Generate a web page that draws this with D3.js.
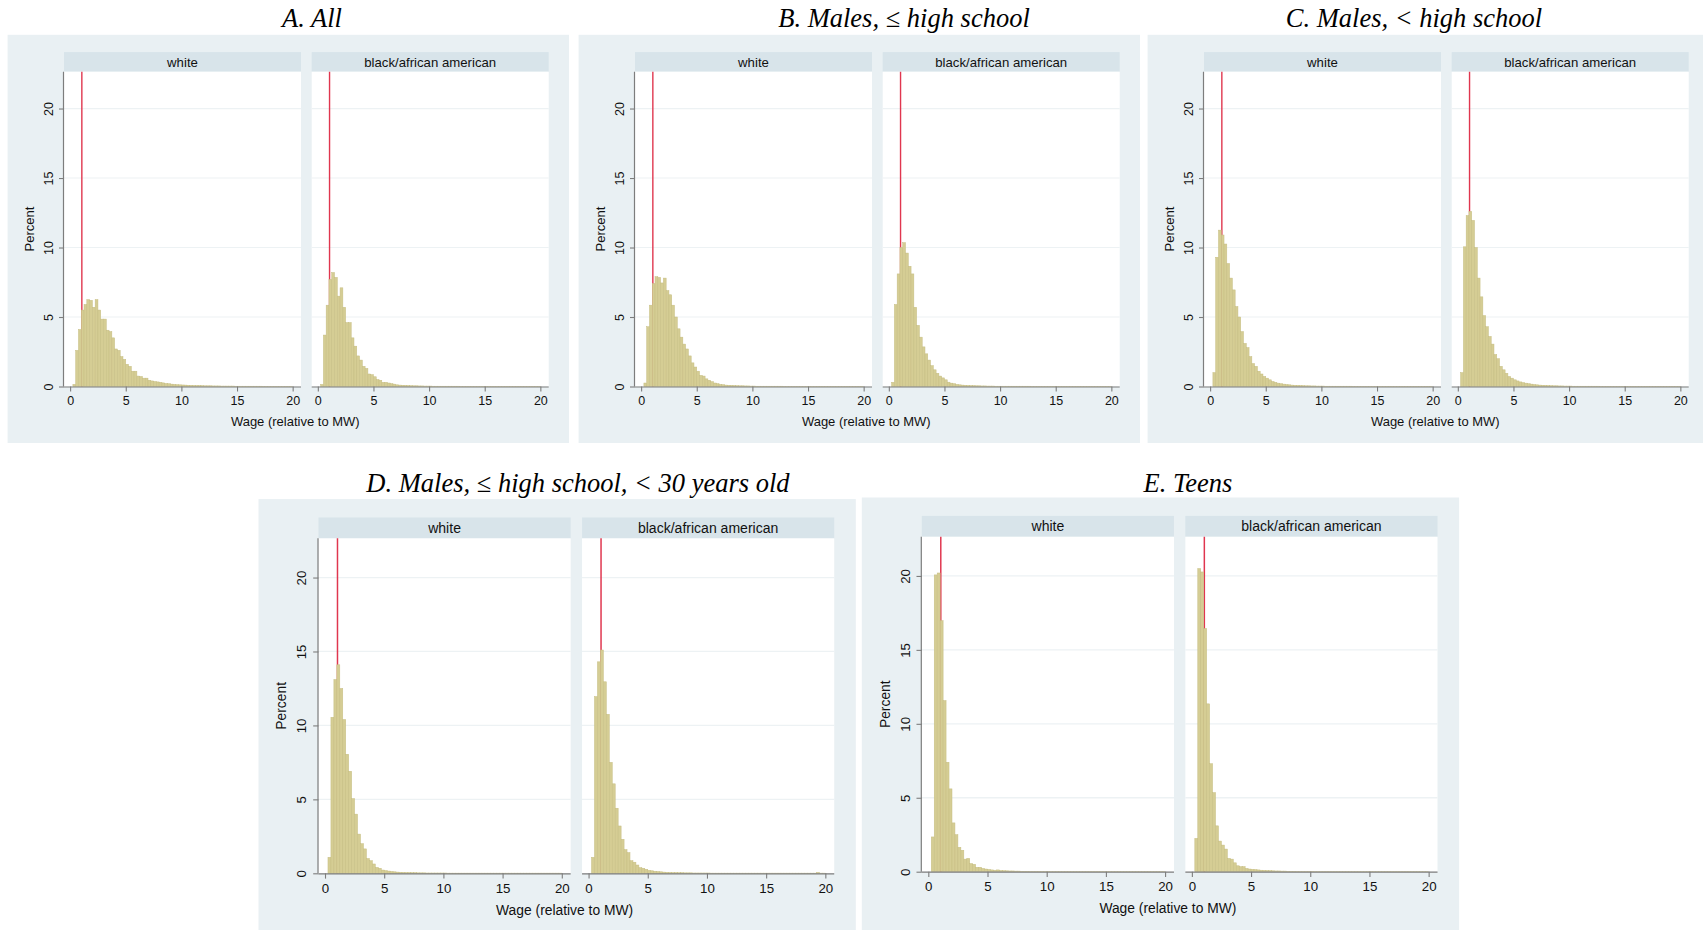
<!DOCTYPE html>
<html>
<head>
<meta charset="utf-8">
<script src="https://cdn.jsdelivr.net/npm/d3@7"></script>
<style>
  html, body { margin: 0; padding: 0; background: #ffffff; }
  svg { display: block; }
</style>
</head>
<body>
<svg id="chart" width="1703" height="930"></svg>
<script>
// Facet labels, axis ticks and histogram binning
const groups = ["white", "black/african american"];
const xTicks = [0, 5, 10, 15, 20];
const yTicks = [0, 5, 10, 15, 20];
const binStart = 0.25;
const binWidth = 0.25;
const minimumWage = 1;
const xTitle = "Wage (relative to MW)";
const yTitle = "Percent";

const panelTitles = [
  "A. All",
  "B. Males, \u2264 high school",
  "C. Males, < high school",
  "D. Males, \u2264 high school, < 30 years old",
  "E. Teens"
];

// Percent of workers per 0.25-wide bin, first bin [0.25, 0.5), last bin [19.75, 20)
const allWhite = [0.15, 2.6, 4.1, 5.5, 5.9, 6.25, 6.2, 5.7, 6.25, 5.5, 4.85, 4.85, 4.05, 3.95, 3.5, 2.7, 2.6, 2.15, 1.95, 1.6, 1.45, 1.1, 1.1, 0.75, 0.72, 0.6, 0.6, 0.45, 0.4, 0.36, 0.33, 0.3, 0.26, 0.22, 0.2, 0.17, 0.15, 0.13, 0.12, 0.11,
  0.1, 0.09, 0.09, 0.08, 0.07, 0.07, 0.06, 0.05, 0.05, 0.05, 0.04, 0.04, 0.04, 0.03, 0.03, 0.03, 0.03, 0.03, 0.02, 0.02, 0.02, 0.02, 0.02, 0.02, 0.02, 0.02, 0.02, 0.02, 0.01, 0.01, 0.01, 0.01, 0.01, 0.01, 0.01, 0.01, 0.01, 0.01, 0.01];
const allBlack = [0.15, 3.7, 5.85, 7.7, 8.2, 7.85, 6.5, 7.1, 5.7, 4.6, 4.6, 3.5, 2.9, 2.2, 1.9, 1.45, 1.3, 0.9, 0.85, 0.7, 0.5, 0.45, 0.3, 0.3, 0.25, 0.2, 0.17, 0.12,
  0.1, 0.09, 0.08, 0.07, 0.06, 0.05, 0.05, 0.04, 0.04, 0.03, 0.03, 0.03,
  0.02, 0.02, 0.02, 0.02, 0.02, 0.02, 0.02, 0.02, 0.02, 0.02,
  0.01, 0.01, 0.01, 0.01, 0.01, 0.01, 0.01, 0.01, 0.01, 0.01, 0.01, 0.01, 0.01, 0.01, 0.01, 0.01, 0.01, 0.01, 0.01, 0.01, 0.01, 0.01, 0.01, 0.01, 0.01, 0.01, 0.01, 0.01, 0.01];
const hsWhite = [0.25, 4.3, 5.85, 7.4, 7.9, 7.85, 7.45, 7.8, 6.9, 6.6, 5.85, 5.0, 4.15, 3.55, 3.05, 2.7, 2.2, 1.7, 1.4, 1.1, 0.8, 0.75, 0.55, 0.45, 0.35, 0.25, 0.2, 0.15,
  0.13, 0.1, 0.09, 0.08, 0.07, 0.06, 0.05, 0.05, 0.04, 0.04, 0.03, 0.03,
  0.02, 0.02, 0.02, 0.02, 0.02, 0.02, 0.02, 0.02, 0.02, 0.02,
  0.01, 0.01, 0.01, 0.01, 0.01, 0.01, 0.01, 0.01, 0.01, 0.01, 0.01, 0.01, 0.01, 0.01, 0.01, 0.01, 0.01, 0.01, 0.01, 0.01, 0.01, 0.01, 0.01, 0.01, 0.01, 0.01, 0.01, 0.01, 0.01];
const hsBlack = [0.3, 5.9, 8.1, 10.0, 10.35, 9.6, 8.65, 8.1, 5.7, 4.4, 3.55, 2.85, 2.35, 1.9, 1.5, 1.2, 0.95, 0.75, 0.62, 0.48, 0.31, 0.24, 0.2, 0.15, 0.12, 0.1,
  0.09, 0.08, 0.07, 0.06, 0.05, 0.05, 0.04, 0.04, 0.03, 0.03, 0.03, 0.02, 0.02, 0.02,
  0.02, 0.02, 0.02, 0.02, 0.02, 0.02, 0.02, 0.02, 0.02, 0.02,
  0.01, 0.01, 0.01, 0.01, 0.01, 0.01, 0.01, 0.01, 0.01, 0.01, 0.01, 0.01, 0.01, 0.01, 0.01, 0.01, 0.01, 0.01, 0.01, 0.01, 0.01, 0.01, 0.01, 0.01, 0.01, 0.01, 0.01, 0.01, 0.01];
const lhsWhite = [1.0, 9.3, 11.25, 10.9, 10.25, 8.85, 7.8, 6.95, 5.75, 5.0, 3.95, 3.1, 2.8, 2.15, 1.65, 1.45, 1.1, 0.9, 0.72, 0.6, 0.48, 0.36, 0.3, 0.24, 0.2, 0.17, 0.14, 0.12, 0.1,
  0.09, 0.08, 0.07, 0.06, 0.05, 0.05, 0.04, 0.04, 0.03, 0.03, 0.03,
  0.02, 0.02, 0.02, 0.02, 0.02, 0.02, 0.02, 0.02, 0.02, 0.02,
  0.01, 0.01, 0.01, 0.01, 0.01, 0.01, 0.01, 0.01, 0.01, 0.01, 0.01, 0.01, 0.01, 0.01, 0.01, 0.01, 0.01, 0.01, 0.01, 0.01, 0.01, 0.01, 0.01, 0.01, 0.01, 0.01, 0.01, 0.01, 0.01];
const lhsBlack = [1.0, 10.05, 12.3, 12.6, 11.95, 10.0, 7.8, 6.45, 5.1, 4.3, 3.6, 3.05, 2.3, 2.0, 1.45, 1.2, 0.95, 0.72, 0.6, 0.48, 0.4, 0.33, 0.28, 0.24, 0.2, 0.17, 0.14, 0.12, 0.1,
  0.09, 0.08, 0.07, 0.06, 0.05, 0.05, 0.04, 0.04, 0.03, 0.03, 0.03,
  0.02, 0.02, 0.02, 0.02, 0.02, 0.02, 0.02, 0.02, 0.02, 0.02,
  0.01, 0.01, 0.01, 0.01, 0.01, 0.01, 0.01, 0.01, 0.01, 0.01, 0.01, 0.01, 0.01, 0.01, 0.01, 0.01, 0.01, 0.01, 0.01, 0.01, 0.01, 0.01, 0.01, 0.01, 0.01, 0.01, 0.01, 0.01, 0.01];
const youngWhite = [1.08, 10.55, 13.1, 14.1, 12.5, 10.4, 8.05, 6.9, 5.05, 4.0, 2.65, 2.0, 1.65, 1.0, 0.85, 0.63, 0.4, 0.34, 0.22, 0.18, 0.15, 0.12, 0.1,
  0.08, 0.07, 0.06, 0.05, 0.05, 0.04, 0.04, 0.03, 0.03, 0.03, 0.02, 0.02, 0.02, 0.02, 0.02, 0.02, 0.02,
  0.01, 0.01, 0.01, 0.01, 0.01, 0.01, 0.01, 0.01, 0.01, 0.01,
  0.01, 0.01, 0.01, 0.01, 0.01, 0.01, 0.01, 0.01, 0.01, 0.01, 0.01, 0.01, 0.01, 0.01, 0.01, 0.01, 0.01, 0.01, 0.01, 0.01, 0.01, 0.01, 0.01, 0.01, 0.01, 0.01, 0.01, 0.01, 0.01];
const youngBlack = [1.08, 11.95, 14.3, 15.1, 12.95, 10.75, 7.5, 6.05, 4.4, 3.2, 2.3, 1.6, 1.4, 0.85, 0.75, 0.56, 0.38, 0.34, 0.27, 0.2, 0.17, 0.14, 0.12, 0.1,
  0.08, 0.07, 0.06, 0.05, 0.05, 0.04, 0.04, 0.03, 0.03, 0.03, 0.02, 0.02, 0.02, 0.02, 0.02, 0.02,
  0.01, 0.01, 0.01, 0.01, 0.01, 0.01, 0.01, 0.01, 0.01, 0.01,
  0.01, 0.01, 0.01, 0.01, 0.01, 0.01, 0.01, 0.01, 0.01, 0.01, 0.01, 0.01, 0.01, 0.01, 0.01, 0.01, 0.01, 0.01, 0.01, 0.01, 0.01, 0.01, 0.01, 0.01, 0.01, 0.01, 0.06, 0.01, 0.01];
const teenWhite = [2.35, 20.07, 20.2, 16.97, 11.57, 7.4, 5.6, 3.3, 2.5, 1.65, 1.45, 0.85, 0.9, 0.55, 0.5, 0.3, 0.3, 0.22, 0.18, 0.15, 0.12, 0.1, 0.12, 0.08,
  0.07, 0.06, 0.05, 0.05, 0.04, 0.04, 0.03, 0.03, 0.03, 0.02, 0.02, 0.02, 0.02, 0.02, 0.02, 0.02,
  0.01, 0.01, 0.01, 0.01, 0.01, 0.01, 0.01, 0.01, 0.01, 0.01,
  0.01, 0.01, 0.01, 0.01, 0.01, 0.01, 0.01, 0.01, 0.01, 0.01, 0.01, 0.01, 0.01, 0.01, 0.01, 0.01, 0.01, 0.01, 0.01, 0.01, 0.01, 0.01, 0.01, 0.01, 0.01, 0.01, 0.01, 0.01, 0.01];
const teenBlack = [2.25, 20.5, 20.27, 16.45, 11.35, 7.3, 5.35, 3.1, 2.07, 1.8, 1.53, 0.9, 0.85, 0.6, 0.4, 0.34, 0.34, 0.22, 0.18, 0.16, 0.14, 0.12,
  0.1, 0.09, 0.08, 0.07, 0.06, 0.05, 0.05, 0.04, 0.04, 0.03, 0.03, 0.03, 0.02, 0.02, 0.02, 0.02, 0.02, 0.02,
  0.01, 0.01, 0.01, 0.01, 0.01, 0.01, 0.01, 0.01, 0.01, 0.01,
  0.01, 0.01, 0.01, 0.01, 0.01, 0.01, 0.01, 0.01, 0.01, 0.01, 0.01, 0.01, 0.01, 0.01, 0.01, 0.01, 0.01, 0.01, 0.01, 0.01, 0.01, 0.01, 0.01, 0.01, 0.01, 0.01, 0.01, 0.01, 0.01];

const panelSeries = [
  [allWhite, allBlack],
  [hsWhite, hsBlack],
  [lhsWhite, lhsBlack],
  [youngWhite, youngBlack],
  [teenWhite, teenBlack]
];

// Where each panel sits: left edge of first facet, x-axis baseline, scale, title anchor
const panelPlacement = [
  { left: 64,    base: 386.5, s: 1,     titleX: 312,  titleY: 27 },
  { left: 635,   base: 386.5, s: 1,     titleX: 904,  titleY: 27 },
  { left: 1204,  base: 386.5, s: 1,     titleX: 1414, titleY: 27 },
  { left: 318.5, base: 873.3, s: 1.064, titleX: 578,  titleY: 492 },
  { left: 921.8, base: 871.7, s: 1.064, titleX: 1188, titleY: 492 }
];

const COLORS = {
  region: "#e9f0f3",
  strip: "#d8e4ea",
  plot: "#ffffff",
  grid: "#edf2f4",
  axis: "#7d7d7d",
  text: "#111111",
  barFill: "#d5cd94",
  barStroke: "#c6bd82",
  mwLine: "#e0364f"
};
const SANS = "'Liberation Sans', Arial, Helvetica, sans-serif";
const SERIF = "'Liberation Serif', 'Times New Roman', serif";

const svg = d3.select("#chart");

function drawPanel(title, series, p) {
  const s = p.s;
  const facetW = 237 * s;
  const facetGap = 10.7 * s;
  const plotH = 314.8 * s;
  const stripH = 19.6 * s;
  const g = svg.append("g");

  // graph region background
  g.append("rect")
    .attr("x", p.left - 56.4 * s)
    .attr("y", p.base - 351.7 * s)
    .attr("width", 561.4 * s)
    .attr("height", 408.2 * s)
    .attr("fill", COLORS.region);

  // panel title
  svg.append("text")
    .attr("x", p.titleX)
    .attr("y", p.titleY)
    .attr("text-anchor", "middle")
    .attr("font-family", SERIF)
    .attr("font-style", "italic")
    .attr("font-size", 26.5)
    .attr("fill", "#000")
    .text(title);

  const y = d3.scaleLinear().domain([0, 22.65]).range([p.base, p.base - plotH]);

  groups.forEach((grp, i) => {
    const fx = p.left + i * (facetW + facetGap);
    const x = d3.scaleLinear().domain([-0.55, 20.75]).range([fx, fx + facetW]);
    const values = series[i];

    // strip with facet label
    g.append("rect")
      .attr("x", fx).attr("y", p.base - plotH - stripH)
      .attr("width", facetW).attr("height", stripH)
      .attr("fill", COLORS.strip);
    g.append("text")
      .attr("x", fx + facetW / 2)
      .attr("y", p.base - plotH - stripH / 2)
      .attr("dy", "0.35em")
      .attr("text-anchor", "middle")
      .attr("font-family", SANS)
      .attr("font-size", 13.2 * s)
      .attr("fill", COLORS.text)
      .text(grp);

    // plot area
    g.append("rect")
      .attr("x", fx).attr("y", p.base - plotH)
      .attr("width", facetW).attr("height", plotH)
      .attr("fill", COLORS.plot);

    // horizontal grid
    g.append("g").selectAll("line")
      .data(yTicks.filter(t => t > 0))
      .join("line")
      .attr("x1", fx).attr("x2", fx + facetW)
      .attr("y1", d => y(d)).attr("y2", d => y(d))
      .attr("stroke", COLORS.grid)
      .attr("stroke-width", 1.2 * s);

    // minimum wage reference line (bars are drawn over it)
    g.append("line")
      .attr("x1", x(minimumWage) + 0.6 * s).attr("x2", x(minimumWage) + 0.6 * s)
      .attr("y1", p.base - plotH).attr("y2", p.base)
      .attr("stroke", COLORS.mwLine)
      .attr("stroke-width", 1.4 * s);

    // histogram bars
    const bins = values.map((v, k) => ({
      x0: binStart + k * binWidth,
      x1: binStart + (k + 1) * binWidth,
      v
    }));
    g.append("g").selectAll("rect")
      .data(bins)
      .join("rect")
      .attr("x", d => x(d.x0))
      .attr("width", d => x(d.x1) - x(d.x0))
      .attr("y", d => y(d.v))
      .attr("height", d => y(0) - y(d.v))
      .attr("fill", COLORS.barFill)
      .attr("stroke", COLORS.barStroke)
      .attr("stroke-width", 0.5);

    // x axis
    const xa = g.append("g")
      .attr("transform", `translate(0,${p.base})`)
      .call(d3.axisBottom(x).tickValues(xTicks).tickSize(5 * s).tickPadding(4.5 * s).tickSizeOuter(0));
    xa.select(".domain").attr("stroke", COLORS.axis).attr("stroke-width", 1.2)
      .attr("d", `M${fx},0.5H${fx + facetW}`);
    xa.selectAll(".tick line").attr("stroke", COLORS.axis).attr("stroke-width", 1.1);
    xa.selectAll(".tick text")
      .attr("font-family", SANS)
      .attr("font-size", 12.5 * s)
      .attr("fill", COLORS.text);

    // y axis only on the first facet, labels turned to read upward
    if (i === 0) {
      const ya = g.append("g")
        .attr("transform", `translate(${fx},0)`)
        .call(d3.axisLeft(y).tickValues(yTicks).tickSize(5 * s).tickSizeOuter(0));
      ya.select(".domain").attr("stroke", COLORS.axis).attr("stroke-width", 1.2)
        .attr("d", `M-0.5,${p.base - plotH}V${p.base}`);
      ya.selectAll(".tick line").attr("stroke", COLORS.axis).attr("stroke-width", 1.1);
      ya.selectAll(".tick text")
        .attr("font-family", SANS)
        .attr("font-size", 12.5 * s)
        .attr("fill", COLORS.text)
        .attr("text-anchor", "middle")
        .attr("transform", "rotate(-90)")
        .attr("x", 0)
        .attr("y", -11.5 * s)
        .attr("dy", null);

      g.append("text")
        .attr("transform", `translate(${fx - 35 * s},${p.base - plotH / 2}) rotate(-90)`)
        .attr("text-anchor", "middle")
        .attr("dominant-baseline", "central")
        .attr("font-family", SANS)
        .attr("font-size", 13 * s)
        .attr("fill", COLORS.text)
        .text(yTitle);
    }
  });

  // shared x-axis title
  g.append("text")
    .attr("x", p.left - 56.4 * s + 561.4 * s / 2 + 7 * s)
    .attr("y", p.base + 39 * s)
    .attr("text-anchor", "middle")
    .attr("font-family", SANS)
    .attr("font-size", 13 * s)
    .attr("fill", COLORS.text)
    .text(xTitle);
}

panelTitles.forEach((t, i) => drawPanel(t, panelSeries[i], panelPlacement[i]));
</script>
</body>
</html>
